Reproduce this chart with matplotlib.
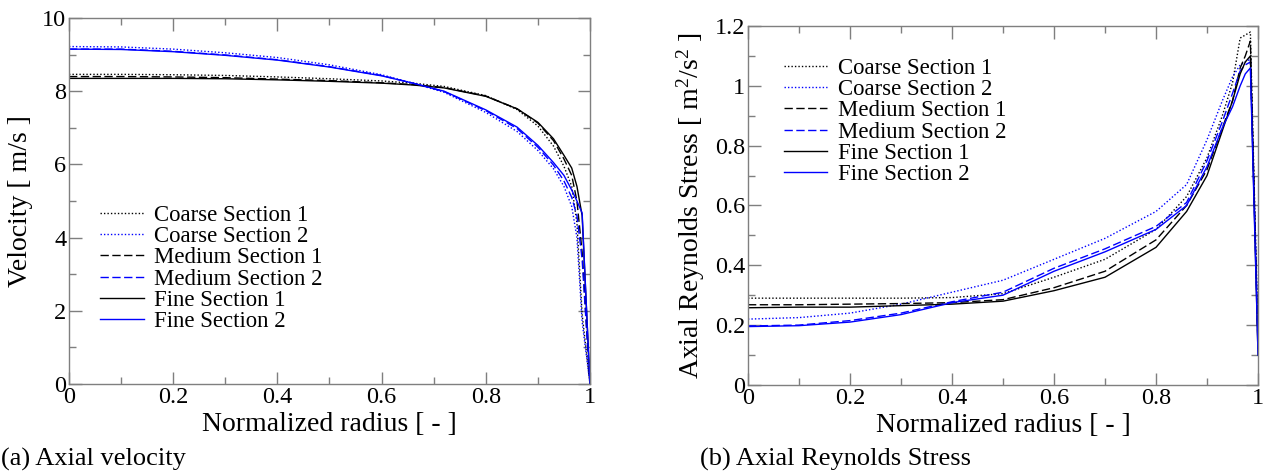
import numpy as np
import matplotlib
matplotlib.use("Agg")
import matplotlib.pyplot as plt
from matplotlib.ticker import MultipleLocator, FuncFormatter

plt.rcParams["font.family"] = ["Liberation Serif", "DejaVu Serif"]
plt.rcParams["mathtext.fontset"] = "custom"
plt.rcParams["mathtext.rm"] = "Liberation Serif"
plt.rcParams["mathtext.it"] = "Liberation Serif:italic"

LABELS = ["Coarse Section 1", "Coarse Section 2", "Medium Section 1",
          "Medium Section 2", "Fine Section 1", "Fine Section 2"]

# axial velocity [m/s] vs normalized radius
R_VEL = [0, 0.1, 0.2, 0.3, 0.4, 0.5, 0.6, 0.66, 0.72, 0.8, 0.86, 0.9,
         0.93, 0.95, 0.965, 0.975, 0.985, 1.0]
VEL_COARSE_1 = [8.46, 8.46, 8.45, 8.43, 8.39, 8.34, 8.28, 8.22, 8.13, 7.88, 7.50, 7.05,
                6.50, 5.95, 5.40, 4.40, 1.90, 0.0]
VEL_COARSE_2 = [9.22, 9.21, 9.15, 9.05, 8.92, 8.72, 8.45, 8.22, 7.97, 7.42, 6.90, 6.38,
                5.88, 5.40, 4.85, 4.00, 1.70, 0.0]
VEL_MEDIUM_1 = [8.40, 8.40, 8.39, 8.37, 8.33, 8.29, 8.23, 8.18, 8.10, 7.87, 7.52, 7.13,
                6.65, 6.15, 5.70, 5.00, 3.60, 0.0]
VEL_MEDIUM_2 = [9.15, 9.15, 9.09, 8.99, 8.86, 8.67, 8.43, 8.22, 7.99, 7.47, 6.98, 6.47,
                5.98, 5.55, 5.10, 4.60, 3.40, 0.0]
VEL_FINE_1 = [8.35, 8.35, 8.35, 8.34, 8.31, 8.27, 8.22, 8.17, 8.09, 7.86, 7.52, 7.15,
              6.70, 6.25, 5.90, 5.40, 4.60, 0.0]
VEL_FINE_2 = [9.15, 9.14, 9.08, 8.98, 8.85, 8.66, 8.42, 8.22, 8.00, 7.49, 7.02, 6.52,
              6.05, 5.70, 5.30, 5.00, 4.67, 0.0]

# axial Reynolds stress [m^2/s^2] vs normalized radius
R_RS = [0, 0.1, 0.2, 0.3, 0.4, 0.5, 0.6, 0.7, 0.8, 0.86, 0.9, 0.93, 0.95,
        0.965, 0.975, 0.985, 1.0]
RS_COARSE_1 = [0.290, 0.290, 0.290, 0.290, 0.292, 0.305, 0.360, 0.420, 0.520, 0.630, 0.760,
               0.900, 1.010, 1.160, 1.170, 1.180, 0.15]
RS_COARSE_2 = [0.220, 0.225, 0.240, 0.270, 0.310, 0.350, 0.420, 0.490, 0.580, 0.670, 0.820,
               0.950, 1.030, 1.070, 1.080, 1.090, 0.20]
RS_MEDIUM_1 = [0.268, 0.268, 0.270, 0.272, 0.275, 0.285, 0.325, 0.380, 0.485, 0.600, 0.720,
               0.860, 0.950, 1.060, 1.100, 1.150, 0.12]
RS_MEDIUM_2 = [0.197, 0.200, 0.215, 0.240, 0.278, 0.310, 0.390, 0.455, 0.530, 0.610, 0.750,
               0.880, 0.975, 1.050, 1.070, 1.080, 0.15]
RS_FINE_1 = [0.258, 0.260, 0.260, 0.265, 0.270, 0.280, 0.315, 0.360, 0.460, 0.580, 0.700,
             0.850, 0.950, 1.040, 1.080, 1.100, 0.10]
RS_FINE_2 = [0.195, 0.198, 0.210, 0.235, 0.275, 0.300, 0.380, 0.445, 0.520, 0.600, 0.730,
             0.860, 0.930, 1.000, 1.040, 1.060, 0.10]

STYLES = [
    ("black", (0, (1, 1.5))),
    ("blue", (0, (1, 1.5))),
    ("black", (0, (6, 2.5))),
    ("blue", (0, (6, 2.5))),
    ("black", "-"),
    ("blue", "-"),
]

SPINE = "#7f7f7f"


def fmt_num(v, pos):
    return f"{v:g}"


def style_axis(ax, xlabel, ylabel, ymax, ymajor, yminor):
    ax.set_xlim(0, 1)
    ax.set_ylim(0, ymax)
    ax.xaxis.set_major_locator(MultipleLocator(0.2))
    ax.xaxis.set_minor_locator(MultipleLocator(0.1))
    ax.yaxis.set_major_locator(MultipleLocator(ymajor))
    ax.yaxis.set_minor_locator(MultipleLocator(yminor))
    ax.xaxis.set_major_formatter(FuncFormatter(fmt_num))
    ax.yaxis.set_major_formatter(FuncFormatter(fmt_num))
    ax.tick_params(which="both", direction="in", top=True, right=True,
                   color=SPINE, labelsize=17.5, pad=2)
    ax.tick_params(which="major", length=9, width=1)
    ax.tick_params(which="minor", length=5, width=1)
    for s in ax.spines.values():
        s.set_color(SPINE)
        s.set_linewidth(1.0)
    ax.set_xlabel(xlabel, fontsize=20, labelpad=3)
    ax.set_ylabel(ylabel, fontsize=20)


fig = plt.figure(figsize=(12.66, 4.74), dpi=100)
ax1 = fig.add_axes([0.0545, 0.19, 0.4115, 0.772])
ax2 = fig.add_axes([0.5908, 0.188, 0.4029, 0.757])

vel = [VEL_COARSE_1, VEL_COARSE_2, VEL_MEDIUM_1, VEL_MEDIUM_2, VEL_FINE_1, VEL_FINE_2]
rs = [RS_COARSE_1, RS_COARSE_2, RS_MEDIUM_1, RS_MEDIUM_2, RS_FINE_1, RS_FINE_2]

for y, lab, (c, ls) in zip(vel, LABELS, STYLES):
    ax1.plot(R_VEL, y, color=c, linestyle=ls, lw=1.0, label=lab)
for y, lab, (c, ls) in zip(rs, LABELS, STYLES):
    ax2.plot(R_RS, y, color=c, linestyle=ls, lw=1.0, label=lab)

style_axis(ax1, "Normalized radius [ - ]", "Velocity [ m/s ]", 10, 2, 1)
style_axis(ax2, "Normalized radius [ - ]",
           "Axial Reynolds Stress [ m$^{2}$/s$^{2}$ ]", 1.2, 0.2, 0.1)
ax1.yaxis.set_label_coords(-0.069, 0.5)
ax2.yaxis.set_label_coords(-0.080, 0.5)

leg_kw = dict(frameon=False, fontsize=16.4, handlelength=1.9, handletextpad=0.45,
              labelspacing=0.01, borderpad=0, borderaxespad=0, loc="upper left")
ax1.legend(bbox_to_anchor=(0.06, 0.489), **leg_kw)
ax2.legend(bbox_to_anchor=(0.071, 0.911), **leg_kw)

fig.text(0.001, 0.031, "(a) Axial velocity", fontsize=19, va="center")
fig.text(0.553, 0.031, "(b) Axial Reynolds Stress", fontsize=19, va="center")

fig.savefig("out.png", dpi=100)
